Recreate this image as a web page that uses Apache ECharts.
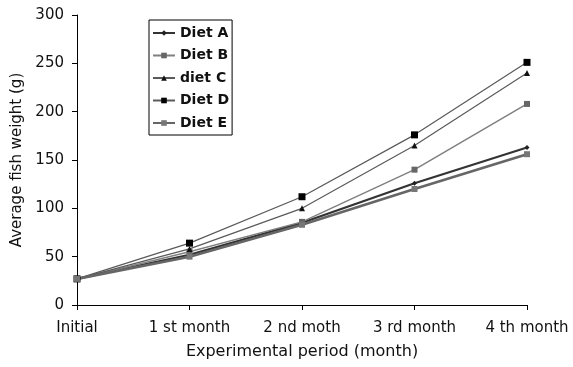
<!DOCTYPE html>
<html><head><meta charset="utf-8">
<script src="https://cdn.jsdelivr.net/npm/echarts@6/dist/echarts.min.js"></script>
<style>html,body{margin:0;padding:0;background:#fff}#c{width:573px;height:367px}</style>
</head><body><div id="c"></div>
<script>
const categories = ['Initial', '1 st month', '2 nd moth', '3 rd month', '4 th month'];
const dietA = [27, 52, 85, 126, 163];
const dietB = [27, 55, 86, 140, 208];
const dietC = [27, 58, 100, 165, 240];
const dietD = [27, 64, 112, 176, 251];
const dietE = [27, 50, 83, 120, 156];
const yTicks = [0, 50, 100, 150, 200, 250, 300];

const font = '"DejaVu Sans", sans-serif';
function s(name, data, lineColor, width, symbol, symColor, symSize) {
  return {
    name, type: 'line', data,
    symbol, symbolSize: symSize,
    itemStyle: { color: symColor, borderWidth: 0 },
    lineStyle: { color: lineColor, width },
    emphasis: { disabled: true }
  };
}
const chart = echarts.init(document.getElementById('c'), null, { renderer: 'canvas' });
chart.setOption({
  animation: false,
  grid: { left: 77, right: 46, top: 15, bottom: 62 },
  legend: {
    orient: 'vertical', left: 149, top: 20,
    borderColor: '#000', borderWidth: 1,
    padding: [6, 3, 5, 3], itemGap: 8.5,
    itemWidth: 22, itemHeight: 7,
    textStyle: { fontFamily: font, fontSize: 14, fontWeight: 'bold', color: '#111', lineHeight: 14 },
    data: ['Diet A', 'Diet B', 'diet C', 'Diet D', 'Diet E']
  },
  xAxis: {
    type: 'category', data: categories, boundaryGap: false,
    name: 'Experimental period (month)', nameLocation: 'middle', nameGap: 39,
    nameTextStyle: { fontFamily: font, fontSize: 16, color: '#111' },
    axisLine: { lineStyle: { color: '#000', width: 1 } },
    axisTick: { show: true, length: 5, lineStyle: { color: '#000' } },
    axisLabel: { fontFamily: font, fontSize: 15, color: '#111', margin: 16 },
    splitLine: { show: false }
  },
  yAxis: {
    type: 'value', min: yTicks[0], max: yTicks[yTicks.length - 1], interval: 50,
    name: 'Average fish weight (g)', nameLocation: 'middle', nameGap: 52,
    nameTextStyle: { fontFamily: font, fontSize: 15, color: '#111' },
    axisLine: { show: true, lineStyle: { color: '#000', width: 1 } },
    axisTick: { show: true, length: 5, lineStyle: { color: '#000' } },
    axisLabel: { fontFamily: font, fontSize: 15, color: '#111', margin: 13 },
    splitLine: { show: false }
  },
  series: [
    s('Diet A', dietA, '#333', 2.2, 'diamond', '#222', 5),
    s('Diet B', dietB, '#808080', 1.5, 'rect', '#666', 6),
    s('diet C', dietC, '#5a5a5a', 1.2, 'triangle', '#111', 6),
    s('Diet D', dietD, '#5a5a5a', 1.2, 'rect', '#000', 7),
    s('Diet E', dietE, '#666', 2.6, 'rect', '#777', 6)
  ]
});
</script></body></html>
